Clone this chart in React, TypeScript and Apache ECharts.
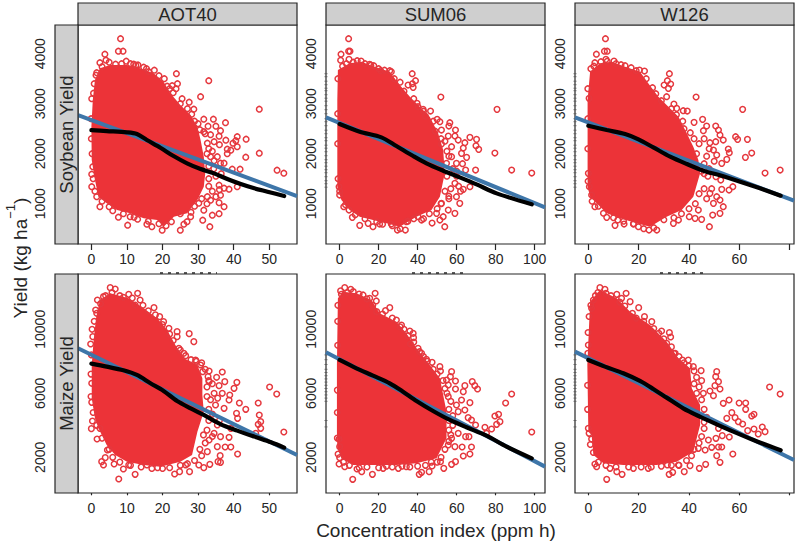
import React, { useEffect, useRef } from "react";
import * as echarts from "echarts";

const panelTitles = ["AOT40", "SUM06", "W126"];
const rowTitles = ["Soybean Yield", "Maize Yield"];
const xTitle = "Concentration index (ppm h)";

const xLimits = [[-3.76, 57.8], [-7, 105.3], [-5.3, 81.7]];
const yLimits = [[194, 4574], [-231, 13456]];
const xTicks = [[0, 10, 20, 30, 40, 50], [0, 20, 40, 60, 80, 100], [0, 20, 40, 60, 80]];
const xTickLabels = [[0, 10, 20, 30, 40, 50], [0, 20, 40, 60, 80, 100], [0, 20, 40, 60]];
const yTicks = [[1000, 2000, 3000, 4000], [0, 2000, 4000, 6000, 8000, 10000, 12000]];
const yTickLabels = [[1000, 2000, 3000, 4000], [2000, 6000, 10000]];
const rugSoy = [3600,3540,3450,3380,3310,3260,3180,3110,3050,2960,2880,2800,2700,2640,2560,2470,2400,2320,2260,2170,2110,2040,1960,1880,1820,1750,1680,1620,1540,1460,1400,1330];
const rugMaize = [8400,8100,7800,7500,7300,7100,6900,6700,6500,6300,6100,5900,5700,5500,4300,3900];

// straight fits (end values at the axis limits)
const fitSoyAot = [[-3.76, 2773], [57.8, 1153]];
const fitSoySum = [[-7, 2727], [105.3, 927]];
const fitSoyW = [[-5.3, 2727], [81.7, 1060]];
const fitMaizeAot = [[-3.76, 8812], [57.8, 2146]];
const fitMaizeSum = [[-7, 8562], [105.3, 1417]];
const fitMaizeW = [[-5.3, 8604], [81.7, 1833]];

// smooth curves
const curveSoyAot = [[0,2473],[4.3,2453],[10,2427],[12.8,2393],[15.6,2273],[19.4,2120],[23.1,1953],[26.9,1807],[30.7,1693],[34.5,1607],[38.2,1493],[42,1393],[45.8,1307],[49.5,1240],[54.2,1153]];
const curveSoySum = [[0,2593],[10.3,2440],[21.4,2327],[29.1,2153],[37.7,1953],[44.5,1807],[53.1,1660],[61.6,1527],[70.2,1387],[80.5,1207],[98.5,987]];
const curveSoyW = [[0,2560],[7.3,2473],[14.6,2393],[19.9,2287],[25.8,2127],[32.5,1940],[39.1,1793],[45.7,1660],[52.3,1567],[60.3,1440],[68.2,1307],[76.4,1160]];
const curveMaizeAot = [[0,7854],[4.3,7667],[9,7437],[12.8,7146],[16.6,6625],[20.3,6146],[24.1,5521],[27.9,5062],[31.6,4646],[36.4,4062],[41,3667],[45.8,3292],[50.5,2937],[54.2,2604]];
const curveMaizeSum = [[0,8083],[8.6,7562],[17.1,7104],[25.7,6625],[32.5,6104],[39.4,5521],[47.9,4896],[56.5,4333],[65,3875],[75.3,3354],[85.6,2667],[98.5,1937]];
const curveMaizeW = [[0,8083],[6.6,7667],[13.9,7250],[20.5,6771],[25.8,6271],[31.1,5729],[37.7,5062],[44.3,4542],[51,4062],[57.6,3604],[65.6,3083],[76.4,2437]];

// outlines of the saturated point clouds
const cloudSoyAot = [[0.1,1873],[0,2540],[0.4,3073],[1,3473],[2.4,3707],[5.3,3773],[10,3773],[13.7,3707],[17.5,3607],[20.3,3440],[22.2,3207],[25,2973],[27.9,2773],[29.8,2540],[30.7,2273],[31.6,1940],[32,1600],[31.6,1340],[29.8,1073],[26.9,807],[23.2,740],[20.3,540],[18.5,673],[14.7,707],[10.9,807],[7.2,873],[4.3,1007],[2,1140],[1,1473]];
const cloudSoySum = [[-1.2,1340],[-1.2,3073],[-0.9,3673],[5.1,3807],[11.1,3840],[18,3740],[25.7,3640],[30.8,3373],[36,3140],[41.1,2940],[46.2,2740],[50.5,2407],[53.1,2073],[53.9,1607],[51.4,1140],[47.1,873],[39.4,740],[30.8,540],[24,607],[17.1,673],[10.3,740],[5.1,873],[0.9,1073]];
const cloudSoyW = [[-0.3,1340],[-0.3,3073],[0.7,3640],[4.6,3807],[9.3,3840],[14.6,3740],[20.5,3640],[23.8,3407],[27.8,3140],[31.8,2940],[35.8,2740],[39.1,2407],[41.7,2140],[43.7,1873],[44.4,1607],[41.7,1140],[37.1,873],[31.1,740],[24.5,540],[19.2,607],[12.6,707],[7.3,807],[3.3,1007],[0.7,1140]];
const cloudMaizeAot = [[1,4437],[0.1,5687],[0.1,7770],[0.6,9229],[1.3,10687],[2.4,11833],[5.3,12250],[10.5,11937],[14.7,11312],[18.5,10687],[21.3,9958],[23.6,9020],[26,8187],[29.8,7770],[31.2,6937],[31.2,5895],[31.6,4854],[29.8,3604],[28.3,2146],[25,1729],[19.4,1417],[14.7,1521],[10,1729],[6.7,2146],[4.3,2771],[2,3812]];
const cloudMaizeSum = [[-1.4,3604],[-1.4,7770],[-0.9,11937],[1.7,12354],[8.6,12250],[16.3,11833],[20.5,11000],[29.1,10479],[34.2,9750],[39.4,8812],[46.2,7770],[51.4,6937],[53.1,5895],[54.8,4854],[54.8,3187],[49.7,1937],[39.4,1625],[29.1,1521],[17.1,1521],[6.8,1521],[0.9,1937],[-1.2,2562]];
const cloudMaizeW = [[0,3604],[-0.4,7770],[0.7,11729],[4.6,12458],[11.3,11937],[16.6,11104],[24.5,10270],[31.1,9229],[35.8,8187],[40.4,7562],[41.1,6312],[44.4,5270],[44.4,4021],[41.7,2354],[35.1,1729],[27.2,1521],[13.9,1521],[6,1625],[2,2146],[1.3,3396]];

// individually visible points
const pointsSoyAot = [[8.2,4300],[7.6,4050],[8.9,4050],[3.8,3990],[4.1,3870],[2.4,3820],[9.8,3850],[11.9,3790],[13.1,3775],[14.7,3730],[17.7,3670],[16.1,3640],[23.9,3600],[33,3460],[24.2,3400],[22.7,3360],[21.3,3350],[23.8,3300],[30.7,3140],[27.5,3030],[25,3000],[47.2,2890],[28.8,2890],[31.6,2690],[34.3,2690],[37.7,2620],[35,2550],[32.8,2550],[36.3,2460],[31.6,2440],[35.9,2350],[41,2340],[43.5,2290],[40.6,2260],[37.8,2270],[34.5,2240],[32.6,2210],[39.8,2210],[41,2140],[38.2,2090],[39.2,2070],[47.2,2010],[38.2,2000],[43.4,1930],[35.4,1940],[33.5,1940],[37.3,1810],[36.3,1810],[41.8,1690],[39.6,1690],[52.2,1670],[54.1,1610],[34.4,1700],[33,1500],[41,1340],[38.7,1290],[37.3,1310],[35.9,1370],[36.3,1170],[35,1140],[35.9,1020],[37.3,940],[33.5,1070],[32.6,1140],[35.9,800],[34,770],[31.6,870],[31.3,670],[33.3,540],[30.2,1010],[27.9,740],[26.9,640],[25,470],[26,590],[19.9,470],[17,540],[15.6,590],[10.2,570],[10.9,740],[7.6,730],[2.4,940],[1.5,1140],[0.1,1340],[0.1,1590],[0.4,1740],[0.1,3100],[0.6,3210],[1.3,3570]];
const edgeSoyAot = [[0.8,3400],[1.5,3620],[3,3740],[5,3830],[6.8,3790],[8.5,3800],[11,3800],[12.5,3770],[15.5,3700],[19,3560],[20.5,3500],[22,3300],[23,3220],[25.5,3100],[27,2900],[28.2,2790],[29,2650],[30,2600],[30.5,2480],[32,2400],[33.5,2380],[33,2100],[34,2050],[36,2180],[32.5,2000],[34.5,1860],[36.5,1600],[35,1550],[33,1750],[34,1250],[33,1350],[36,1280],[32.5,1000],[31,1100],[29,950],[28,830],[25,800],[22.5,640],[21,560],[19,600],[16,650],[13,690],[12,730],[9,800],[6,860],[5,940],[3,1050],[1,1250],[0.5,1500],[0.2,2000],[-0.1,2700],[0,2300]];
const pointsSoySum = [[4.6,4300],[4.6,4050],[5.3,4050],[0.7,3990],[0.5,3870],[4.8,3887],[11,3853],[15.4,3787],[17.5,3760],[21,3660],[25.7,3660],[26.5,3640],[37.2,3600],[38.9,3460],[37.3,3400],[35.1,3373],[37.7,3327],[51.9,3133],[39.7,3007],[40.2,2940],[42.8,2887],[46.6,2853],[80.7,2887],[50,2687],[51.4,2640],[56.5,2620],[56,2553],[52.2,2473],[59.4,2473],[59.1,2353],[66.8,2327],[70.2,2287],[60.8,2273],[64.2,2220],[55.7,2353],[69.9,2160],[71.3,2087],[63.4,2113],[62.5,2007],[79.6,2013],[52.2,2193],[57.4,2140],[57.4,1940],[65.1,1927],[59.9,1807],[54.8,1807],[88.2,1673],[98.5,1613],[69.7,1673],[64.6,1673],[59.1,1407],[66.8,1340],[63.4,1287],[59.9,1140],[61.6,1007],[59.1,807],[55.7,873],[52.2,1007],[53.1,740],[51.4,673],[53.9,540],[47.4,613],[49.7,807],[42,673],[40.2,740],[33.7,473],[29.6,473],[17.1,540],[10.3,567],[14.6,607],[6.5,727],[4.8,873],[2.1,940],[0,1173],[-0.3,1340],[20.5,593],[26.5,593],[34.2,640]];
const edgeSoySum = [[-0.9,3500],[1.5,3750],[3.5,3800],[7,3830],[9,3860],[13,3800],[16,3770],[20,3700],[23,3670],[28,3500],[31,3430],[33,3250],[38,3100],[43,2850],[44,2750],[48,2650],[49,2450],[52,2300],[54,2250],[55,2050],[56,1950],[58,1700],[55,1550],[57,1300],[54,1250],[56,1150],[52,1000],[50,900],[46,800],[43,700],[38,700],[35,650],[31,500],[27,560],[22,590],[19,640],[13,700],[8,780],[3,980],[0,1250],[-0.8,1500],[-1,2200],[-1,2800],[56,1100],[60,1550],[61,1350],[62,1250],[63,1800],[60,1650]];
const pointsSoyW = [[6.8,4300],[6.4,4050],[7.5,4050],[3.2,3990],[2.6,3820],[7,3887],[10.2,3853],[14.6,3760],[20.3,3673],[22.3,3653],[32.2,3600],[30.1,3373],[31.4,3460],[32.7,3393],[31.8,3307],[31.1,3140],[42.8,3133],[34,2993],[35.1,2907],[37.7,2860],[39.3,2853],[61.3,2887],[42,2627],[45.4,2687],[47,2553],[50.6,2553],[51.7,2473],[45.7,2460],[58.5,2340],[59.3,2287],[63.2,2287],[52.3,2373],[53.6,2273],[50.6,2240],[48.3,2220],[55.6,2093],[56,2020],[64.9,2013],[62.4,1927],[49.7,2073],[51,1973],[55,1887],[53,1807],[70.2,1613],[76.2,1673],[50.7,1540],[52.6,1473],[57.4,1340],[55.9,1273],[53,1287],[48.3,1207],[51,1140],[52.3,1073],[53.6,940],[49.7,1007],[52.3,807],[49.4,773],[48.1,540],[45,687],[43.7,873],[42.4,707],[40.1,740],[35.8,673],[33.8,607],[27.2,473],[24.1,473],[19.9,540],[17.9,593],[14.2,593],[10.6,567],[11.7,673],[7.3,727],[2.6,940],[1.3,1173],[0.4,1340],[0,1607],[0.3,3107]];
const edgeSoyW = [[-0.2,3300],[1,3700],[2.2,3750],[5,3840],[7.5,3850],[11,3800],[13,3780],[17,3720],[19,3660],[23,3500],[25.5,3320],[26.8,3200],[29,3060],[33,2900],[35,2780],[37.5,2650],[38,2500],[40.5,2420],[42,2300],[44,2200],[43,2000],[46,1800],[47,1950],[45,1650],[47.5,1550],[46,1300],[44,1200],[47,1100],[42.5,1000],[40,900],[37,800],[34,720],[30,680],[26,520],[22,500],[18,600],[14,650],[10,720],[6,810],[4,950],[1.5,1050],[-0.1,1450],[-0.2,2100],[-0.2,2700],[49,1300],[46,1600],[48,1700],[50,1850],[48,2100],[46,2300]];
const pointsMaizeAot = [[5.3,12604],[6.7,12520],[3.4,12040],[1.7,11833],[10.5,12187],[13,12250],[13.7,11833],[12.3,11520],[1.2,11208],[17.6,11354],[19.2,10791],[20.3,10479],[21.8,10062],[24.1,9854],[24.1,9541],[27.5,9729],[28.8,9229],[24.6,8812],[26,8500],[29.3,8083],[30.7,7770],[31.3,7354],[33.1,7395],[32.8,7041],[36.8,7333],[35.2,7000],[37.5,6729],[35.9,6479],[33.1,6729],[40.9,6687],[40.1,6312],[38.9,5895],[36.8,6000],[34.5,6000],[50.1,6396],[52.1,5958],[41.6,5396],[46.9,5396],[43.4,5000],[38.7,5583],[34.9,5270],[37.3,5062],[40.8,4750],[41.1,4437],[47.2,4646],[47.6,4229],[46.9,4062],[47.6,3812],[54.1,3583],[46.2,3500],[39.2,3812],[35.4,4020],[38.7,3250],[36.3,3291],[34.5,3500],[33.1,3083],[35.4,2667],[37.6,2646],[39.2,2646],[32.6,2354],[41.1,2208],[36.2,2104],[35.6,1729],[36.3,1687],[33.3,1562],[31.6,1354],[30.2,1521],[27.6,1104],[24.8,1104],[23.4,958],[26.5,1521],[18.6,1354],[15.6,1521],[12.3,937],[9,1271],[7.7,646],[10.5,1521],[6.4,1583],[3.4,1521],[2.9,1729],[3.9,1979],[4.5,2458],[1.6,3146],[2.4,3812],[0,3792],[0.3,4271],[0.1,6625],[0.1,5437],[-0.2,9083],[0.4,9541]];
const edgeMaizeAot = [[0.2,10000],[0.8,10500],[1.5,11000],[2.6,11600],[4,12100],[5.8,12300],[8,12100],[9,12000],[11.5,11950],[14.5,11500],[16,11150],[18,10900],[20,10300],[22,9700],[23,9300],[25,8700],[26.5,8350],[28,8100],[29.5,8000],[31,7900],[32,7500],[33,6800],[32.5,6400],[34,6600],[32.5,5800],[33.5,5600],[35.5,5700],[33,5000],[34,4700],[36,4300],[33,4300],[32.5,3700],[34,3300],[31.5,3400],[32,2900],[30.5,2500],[31,2100],[29,1800],[27,1600],[25,1500],[22,1350],[20,1300],[17,1300],[14,1400],[11,1500],[8,1700],[6,2000],[5,2500],[3,3200],[1.5,4000],[0.5,4800],[-0.1,5800],[-0.1,7200],[0,8400]];
const pointsMaizeSum = [[2.6,12604],[5.7,12500],[0.9,12187],[12,12146],[18.2,12250],[15.4,11937],[18.8,11771],[23.5,11166],[25.7,11354],[29.1,10583],[31.7,10270],[36,9896],[37.7,9750],[37.9,9479],[36.3,9083],[40.2,8812],[42,8500],[44.5,8125],[47.4,7937],[51.4,7666],[51.7,7395],[57.4,7354],[56.8,7041],[54.8,6833],[59.4,6770],[55.7,6521],[59.4,6270],[68,6729],[64.2,6479],[69.3,6479],[70.7,6270],[63.4,6104],[88.2,5958],[85.1,5396],[66.8,5416],[62.5,5583],[55.7,5791],[59.9,5270],[64.2,4958],[60.8,4854],[65.9,4479],[67.6,4333],[79.6,4583],[81.5,4687],[82.2,4229],[80.5,4062],[69.7,4020],[74.5,3875],[77.9,3771],[98.5,3583],[75.3,3500],[64.6,3291],[66.3,3291],[60.8,3500],[57.4,3187],[67.6,2646],[62.8,2646],[59.1,2667],[55.7,2770],[66.8,2208],[63.4,2083],[59.4,1729],[57.4,1562],[53.4,1312],[51.7,1729],[47.4,1458],[45.9,1104],[42,1062],[40.8,937],[34.2,1417],[30.1,1312],[22.3,1312],[16.8,937],[11.3,1104],[8.9,1271],[6.7,625],[2.6,1417],[-0.3,1583],[0,1979],[0,2667],[-0.3,3146]];
const edgeMaizeSum = [[-1,9000],[-1,10500],[-0.9,11500],[0.5,12400],[4,12300],[7,12350],[10,12200],[14,11900],[17,11500],[19,11100],[22,10950],[27,10700],[31,10150],[33,10000],[35,9600],[38,9200],[41,8600],[43,8300],[45,8000],[48,7500],[50,7200],[53,6800],[54,6300],[55,6000],[57,5500],[56,5000],[58,4600],[56,4300],[58,4000],[56,3700],[57,3400],[56,3000],[54,2500],[52,2000],[50,1700],[47,1700],[44,1500],[40,1450],[36,1400],[32,1450],[27,1400],[24,1450],[20,1350],[14,1400],[10,1350],[5,1500],[2,1700],[-0.8,2200],[-1.2,3200],[-1.2,4800],[-1.2,6200]];
const pointsMaizeW = [[4.6,12604],[6.6,12500],[2,11833],[11.3,12187],[15,12250],[13.2,11937],[16.6,11729],[20,11354],[22.3,10791],[25.2,10479],[29.1,9896],[32.2,9791],[32.7,9520],[31.1,9125],[34,8500],[37.4,8083],[39.7,8083],[41.7,7666],[44.8,7416],[51,7354],[50.6,7041],[45,6791],[51.7,6729],[50.3,6479],[52.3,6270],[72,6396],[76.2,5958],[45.7,6000],[48.3,6146],[49.7,5854],[55.9,5583],[53.6,5375],[59.9,5396],[62.5,5396],[62.5,5000],[57,4791],[65.8,4687],[64.9,4583],[55,4437],[58.3,4479],[59.6,4229],[61.3,4083],[65.8,3771],[69.1,3895],[70.2,3604],[63.3,3666],[67.5,3458],[51.7,3812],[56,3270],[53.2,3354],[50.7,3187],[47.7,3083],[53,2646],[51.7,2646],[49,2625],[46.4,2458],[43.7,2562],[57.4,2208],[51,2104],[52.3,1687],[46.6,1562],[44.1,1312],[40.4,1479],[38.1,1104],[35.8,1521],[33.5,1062],[32.1,937],[31.4,1521],[23.8,1312],[17.9,1312],[13.4,937],[11.3,1104],[8.6,1312],[7.3,625],[3.3,1417],[2.6,1583],[1.3,3146],[0,3812],[0,9020],[1.3,11312]];
const edgeMaizeW = [[-0.2,8500],[-0.1,9800],[0.3,10800],[1,11500],[2.8,12100],[3.8,12300],[7,12250],[9,12100],[12.5,11700],[14.5,11450],[17.5,11000],[19,10700],[22,10500],[26,10050],[28,9750],[30,9400],[33,8900],[34.5,8500],[36,8300],[38,7900],[40,7700],[42,7400],[43,7000],[42,6600],[44,6400],[43,6000],[45,5600],[46,5000],[47,4500],[46,4200],[46,3800],[45,3300],[44,2900],[42,2500],[41,2100],[39,1800],[36,1500],[33,1500],[29,1450],[25,1400],[21,1400],[16,1400],[11,1400],[7,1500],[4,1700],[2,2300],[0.8,2800],[0.3,3500],[-0.3,5000],[-0.3,6500]];

const fits = [fitSoyAot, fitSoySum, fitSoyW, fitMaizeAot, fitMaizeSum, fitMaizeW];
const curves = [curveSoyAot, curveSoySum, curveSoyW, curveMaizeAot, curveMaizeSum, curveMaizeW];
const clouds = [cloudSoyAot, cloudSoySum, cloudSoyW, cloudMaizeAot, cloudMaizeSum, cloudMaizeW];
const points = [
  [...pointsSoyAot, ...edgeSoyAot], [...pointsSoySum, ...edgeSoySum], [...pointsSoyW, ...edgeSoyW],
  [...pointsMaizeAot, ...edgeMaizeAot], [...pointsMaizeSum, ...edgeMaizeSum], [...pointsMaizeW, ...edgeMaizeW],
];
const rugs = [rugSoy, rugMaize];

const FONT = "Liberation Sans";
const INK = "#262626";
const RED = "#ec3338";
const RING = "#e5383e";
const BLUE = "#3e76a9";
const GREY = "#cfcfcf";
const gridLeft = [78, 326, 575];
const gridTop = [25, 274];
const gridSize = 219;
const plain = (v: number) => String(v);

function buildOption() {
  const grid: any[] = [];
  const xAxis: any[] = [];
  const yAxis: any[] = [];
  const series: any[] = [];
  const graphic: any[] = [];

  for (let r = 0; r < 2; r++) {
    for (let c = 0; c < 3; c++) {
      const i = r * 3 + c;
      grid.push({ left: gridLeft[c], top: gridTop[r], width: gridSize, height: gridSize, show: true, borderColor: INK, borderWidth: 1.2, backgroundColor: "#fff", z: 1 });
      xAxis.push({
        type: "value", gridIndex: i, min: xLimits[c][0], max: xLimits[c][1], splitLine: { show: false },
        axisLine: { show: false },
        axisTick: { show: true, length: 6, lineStyle: { color: INK, width: 1.2 }, customValues: xTicks[c] },
        axisLabel: { show: true, color: INK, fontFamily: FONT, fontSize: 14, margin: 8, customValues: xTickLabels[c], formatter: plain, hideOverlap: false },
      });
      yAxis.push({
        type: "value", gridIndex: i, min: yLimits[r][0], max: yLimits[r][1], splitLine: { show: false },
        axisLine: { show: false },
        axisTick: { show: c !== 0, inside: true, length: 7, lineStyle: { color: INK, width: 1.2 }, customValues: yTicks[r] },
        axisLabel: { show: true, rotate: 90, color: INK, fontFamily: FONT, fontSize: 14, margin: c === 0 ? 31 : 8, customValues: yTickLabels[r], formatter: plain, hideOverlap: false },
      });
      const outline = clouds[i];
      series.push({
        type: "custom", xAxisIndex: i, yAxisIndex: i, data: outline, silent: true, z: 2, clip: true,
        encode: { x: 0, y: 1 },
        renderItem: (params: any, api: any) => {
          if (params.dataIndex !== 0) return null;
          return { type: "polygon", shape: { points: outline.map((p) => api.coord(p)) }, style: { fill: RED } };
        },
      });
      series.push({
        type: "scatter", xAxisIndex: i, yAxisIndex: i, data: points[i], symbol: "circle", symbolSize: 5.6, z: 3, silent: true,
        itemStyle: { color: "transparent", borderColor: RING, borderWidth: 1.5, opacity: 1 },
      });
      if (c !== 0) {
        series.push({
          type: "scatter", xAxisIndex: i, yAxisIndex: i, data: rugs[r].map((y) => [xLimits[c][0], y]), symbol: "rect", symbolSize: [3, 1], z: 3, silent: true, clip: true,
          itemStyle: { color: "#555" },
        });
      }
      series.push({
        type: "line", xAxisIndex: i, yAxisIndex: i, data: fits[i], showSymbol: false, symbol: "none", z: 4, silent: true,
        lineStyle: { color: BLUE, width: 4 },
      });
      series.push({
        type: "line", xAxisIndex: i, yAxisIndex: i, data: curves[i], showSymbol: false, symbol: "none", smooth: 0.3, z: 5, silent: true,
        lineStyle: { color: "#000", width: 4.2, cap: "round" },
      });
    }
  }

  panelTitles.forEach((t, c) => {
    graphic.push({ type: "rect", shape: { x: gridLeft[c], y: 3, width: gridSize, height: 22 }, style: { fill: GREY, stroke: INK, lineWidth: 1.2 }, z: 10 });
    graphic.push({ type: "text", x: gridLeft[c] + gridSize / 2, y: 14.5, style: { text: t, fill: INK, font: `18.5px "${FONT}"`, align: "center", verticalAlign: "middle" }, z: 11 });
  });
  rowTitles.forEach((t, r) => {
    graphic.push({ type: "rect", shape: { x: 55, y: gridTop[r], width: 23, height: gridSize }, style: { fill: GREY, stroke: INK, lineWidth: 1.2 }, z: 10 });
    graphic.push({ type: "text", x: 66.5, y: gridTop[r] + gridSize / 2, rotation: Math.PI / 2, style: { text: t, fill: INK, font: `18.5px "${FONT}"`, align: "center", verticalAlign: "middle" }, z: 11 });
  });
  graphic.push({ type: "text", x: 436, y: 530, style: { text: xTitle, fill: INK, font: `19px "${FONT}"`, align: "center", verticalAlign: "middle" }, z: 11 });
  graphic.push({
    type: "text", x: 17, y: 258, rotation: Math.PI / 2, z: 11,
    style: {
      text: "{n|Yield (kg ha}{s|\u22121}{n|)}", align: "center", verticalAlign: "middle", fill: INK,
      rich: {
        n: { fontFamily: FONT, fontSize: 19, lineHeight: 26, fill: INK, verticalAlign: "bottom" },
        s: { fontFamily: FONT, fontSize: 13, lineHeight: 26, fill: INK, verticalAlign: "top" },
      },
    },
  });
  // remnants of hidden captions showing above the lower panels
  [[160, 217], [412, 467], [660, 708]].forEach(([a, b]) => {
    graphic.push({ type: "line", shape: { x1: a, y1: 273, x2: b, y2: 273 }, style: { stroke: INK, lineWidth: 1.6, lineDash: [3, 5] }, z: 0 });
  });

  return { animation: false, backgroundColor: "#fff", grid, xAxis, yAxis, series, graphic };
}

export default function App() {
  const ref = useRef<HTMLDivElement>(null);
  useEffect(() => {
    const chart = echarts.init(ref.current!, undefined, { renderer: "svg" });
    chart.setOption(buildOption() as any);
    return () => chart.dispose();
  }, []);
  return <div ref={ref} style={{ position: "absolute", left: 0, top: 0, width: 796, height: 543 }} />;
}
